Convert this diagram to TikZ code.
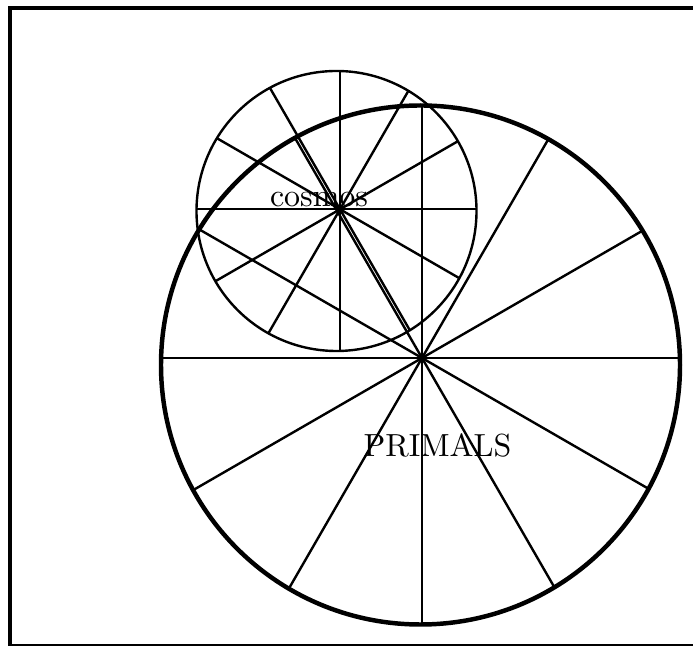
\documentclass[tikz,border=0pt]{standalone}
\usetikzlibrary{calc}

\begin{document}
\begin{tikzpicture}[
  x=0.011cm, y=-0.011cm,
  frame/.style={line width=1.4pt},
  bigrim/.style={line width=1.4pt},
  smallrim/.style={line width=0.75pt},
  spoke/.style={line width=0.75pt},
  label/.style={anchor=base, inner sep=0pt}
]
\useasboundingbox (0,0) rectangle (693,646);
\draw[frame] (10,8) rectangle (699,646);

% centres of the two wheels and the points the spokes start from
\coordinate (smallc) at (336.5,211);
\coordinate (smallhub) at (340,209.3);
\coordinate (bigc) at (420.5,365);
\coordinate (bighub) at (422,358);

% small wheel
\draw[smallrim] (smallc) circle (140);
\begin{scope}
  \clip (smallc) circle (140);
  \foreach \a in {0,30,...,330}
    \draw[spoke] (smallhub) -- ++(\a:220);
\end{scope}

% big wheel
\draw[bigrim] (bigc) circle (259.5);
\begin{scope}
  \clip (bigc) circle (259.5);
  \foreach \a in {0,30,...,330}
    \draw[spoke] (bighub) -- ++(\a:300);
\end{scope}

\node[label] (cosmos) at (319,206.7) {cosmos};
\node[label] (primals) at (437.5,457) {PRIMALS};
\end{tikzpicture}
\end{document}
